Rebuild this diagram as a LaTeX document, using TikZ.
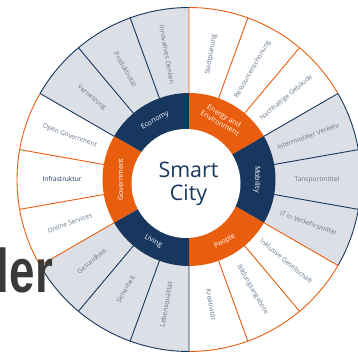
\documentclass[tikz,border=0pt]{standalone}
\usepackage{fontspec}
\setmainfont{Open Sans}
\newfontfamily\heavyfont{Liberation Sans}
\usetikzlibrary{positioning}
\definecolor{navy}{HTML}{17375E}
\definecolor{ora}{HTML}{E95D0F}
\definecolor{pale}{HTML}{DCE0E6}
\definecolor{slate}{HTML}{66778B}
\definecolor{ink}{HTML}{3A3A3A}
\tikzstyle{topic} = [
        text=slate, inner sep=0pt,
        font=\fontsize{6.6}{7.4}\selectfont
    ]
\tikzstyle{field} = [
        text=white, inner sep=0pt, align=center,
        font=\fontsize{7.2}{8.4}\selectfont
    ]
\tikzstyle{rim} = [draw, line width=0.9bp]

\begin{document}
\begin{tikzpicture}[x=1bp, y=1bp]
    \useasboundingbox (0,0) rectangle (358,358);
    \fill[white] (0,0) rectangle (358,358);
    \clip (0,0) rectangle (358,358);
    \begin{scope}[shift={(189,178.5)}]
    % outer ring
    \fill[pale] (0,0) -- (90:172) arc[start angle=90, end angle=150, radius=172] -- cycle;
    \fill[pale] (0,0) -- (-30:172) arc[start angle=-30, end angle=30, radius=172] -- cycle;
    \fill[pale] (0,0) -- (-150:172) arc[start angle=-150, end angle=-90, radius=172] -- cycle;
    \path [rim, ora] (30:172) arc[start angle=30, end angle=90, radius=172]
        (-90:172) arc[start angle=-90, end angle=-30, radius=172]
        (150:172) arc[start angle=150, end angle=210, radius=172];
    \path [rim, navy] (90:172) arc[start angle=90, end angle=150, radius=172]
        (-30:172) arc[start angle=-30, end angle=30, radius=172]
        (210:172) arc[start angle=210, end angle=270, radius=172];
    \path [rim, ora] (90:80) -- (90:172) (70:80) -- (70:172) (50:80) -- (50:172)
        (-30:80) -- (-30:172) (-50:80) -- (-50:172) (-70:80) -- (-70:172)
        (170:80) -- (170:172) (190:80) -- (190:172) (210:80) -- (210:172);
    \path [rim, navy] (30:80) -- (30:172) (10:80) -- (10:172) (-10:80) -- (-10:172)
        (-90:80) -- (-90:172) (-110:80) -- (-110:172) (-130:80) -- (-130:172)
        (150:80) -- (150:172) (130:80) -- (130:172) (110:80) -- (110:172);

    % inner ring
    \fill[navy] (0,0) -- (90:86.5) arc[start angle=90, end angle=150, radius=86.5] -- cycle;
    \fill[ora] (0,0) -- (30:86.5) arc[start angle=30, end angle=90, radius=86.5] -- cycle;
    \fill[navy] (0,0) -- (-30:86.5) arc[start angle=-30, end angle=30, radius=86.5] -- cycle;
    \fill[ora] (0,0) -- (-90:86.5) arc[start angle=-90, end angle=-30, radius=86.5] -- cycle;
    \fill[navy] (0,0) -- (-150:86.5) arc[start angle=-150, end angle=-90, radius=86.5] -- cycle;
    \fill[ora] (0,0) -- (150:86.5) arc[start angle=150, end angle=210, radius=86.5] -- cycle;
    \fill[white] (-3,-4) circle[radius=54.5];

    \node [anchor=base, text=navy, font=\fontsize{21.5}{23}\selectfont] (smart) at (-0.5,1.8) {Smart};
    \node [anchor=base, text=navy, font=\fontsize{21.5}{23}\selectfont] (city) at (-0.5,-20.8) {City};

    \node [field, rotate=30] (economy) at (120:68) {Economy};
    \node [field, rotate=-30] (energy) at (61:68.5) {Energy and\\Environment};
    \node [field, rotate=-90] (mobility) at (0:68) {Mobility};
    \node [field, rotate=30] (people) at (-60:71.5) {People};
    \node [field, rotate=-30] (living) at (-120:71.5) {Living};
    \node [field, rotate=90] (government) at (180:68.5) {Government};

    \node [topic, rotate=80] (plan) at (80:127) {Stadtplanung};
    \node [topic, rotate=60] (resource) at (60:127) {Ressourcenschonung};
    \node [topic, rotate=40] (building) at (40:127) {Nachhaltige Gebäude};
    \node [topic, rotate=20] (intermodal) at (20:127) {Intermodaler Verkehr};
    \node [topic] (transport) at (0:128) {Tansportmittel};
    \node [topic, rotate=-20] (it) at (-20:127) {IT in Verkehrsmittel};
    \node [topic, rotate=-40] (inclusive) at (-40:127) {Inklusive Gesellschaft};
    \node [topic, rotate=-60] (education) at (-60:127) {Bildungsangebote};
    \node [topic, rotate=-80] (creative) at (-80:127) {Kreativität};
    \node [topic, rotate=80] (quality) at (-100:127) {Lebensqualität};
    \node [topic, rotate=60] (safety) at (-120:127) {Sicherheit};
    \node [topic, rotate=40] (health) at (-140:127) {Gesundheit};
    \node [topic, rotate=20] (online) at (-160:127) {Online Services};
    \node [topic, text=navy] (infra) at (180:127) {Infrastruktur};
    \node [topic, rotate=-20] (opengov) at (160:127) {Open Government};
    \node [topic, rotate=-40] (network) at (140:127) {Vernetzung};
    \node [topic, rotate=-60] (product) at (120:127) {Produktivität};
    \node [topic, rotate=-80] (innovate) at (100:127) {Innovatives Denken};
    \end{scope}

    \node [anchor=base east, inner sep=0pt, text=ink, font=\heavyfont\bfseries\fontsize{62}{62}\selectfont] (ler) at (53,66) {\scalebox{0.74}[1]{ler}};
\end{tikzpicture}
\end{document}
